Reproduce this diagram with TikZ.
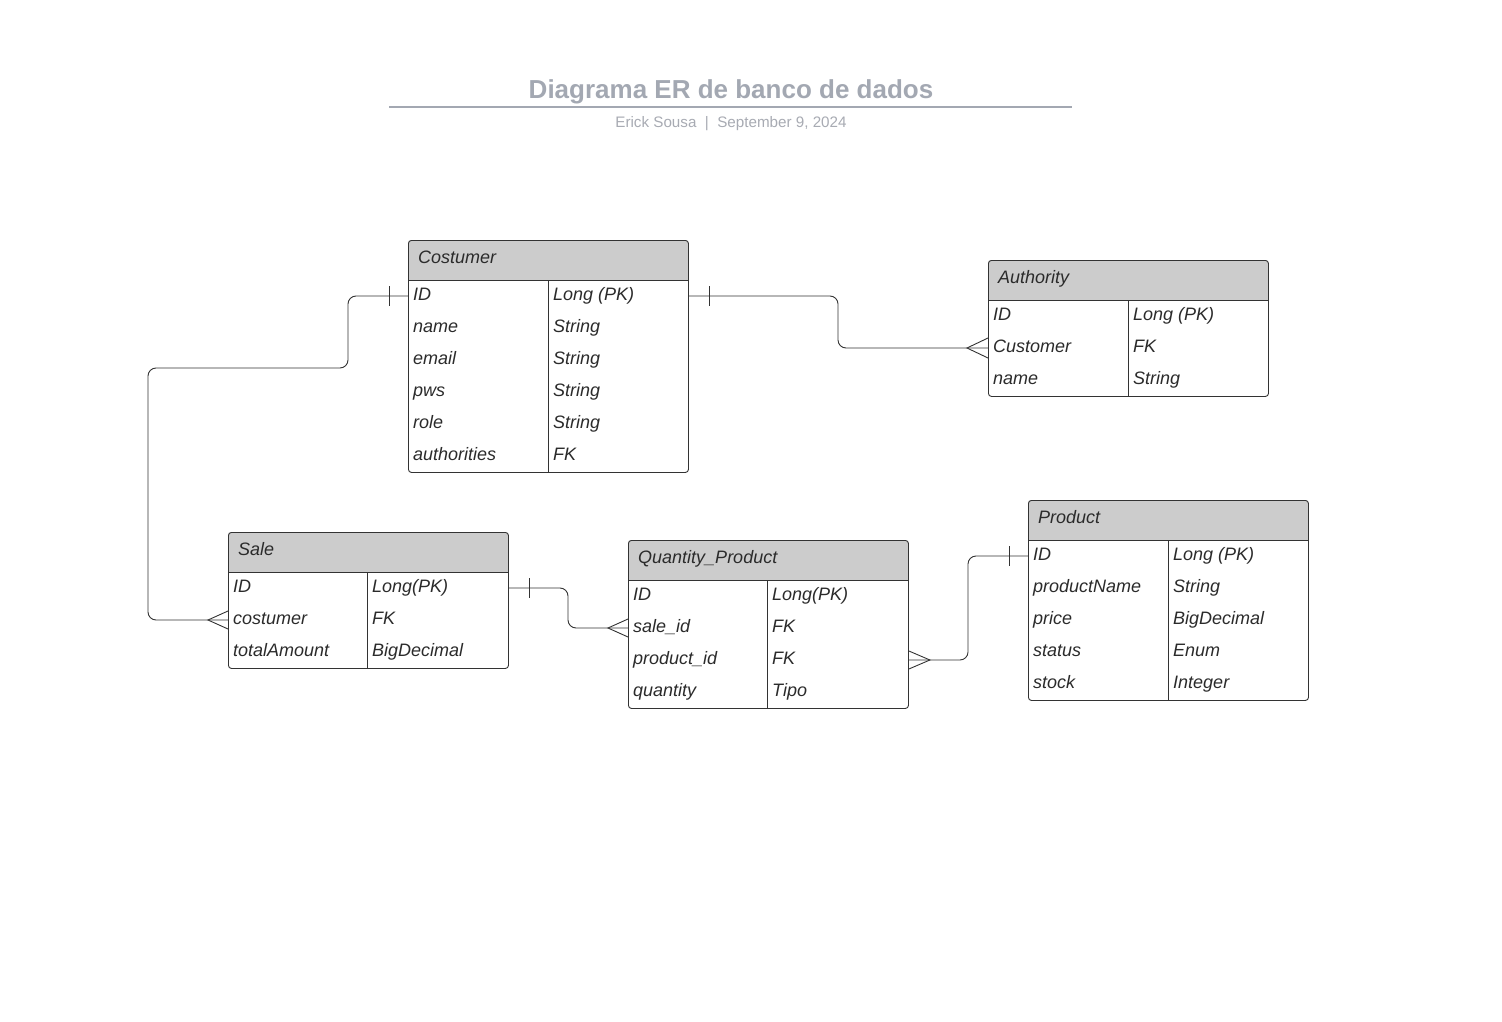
\documentclass[tikz,border=0pt]{standalone}
\usepackage{fontspec}
\setmainfont{Liberation Sans}
\definecolor{linec}{HTML}{333333}
\definecolor{hdrc}{HTML}{CCCCCC}
\definecolor{txtc}{HTML}{2B2B2B}
\definecolor{titlec}{HTML}{A3A8B2}
\definecolor{subc}{HTML}{A8ABB3}
\newcommand\erbox[6]{%
  \fill[hdrc, rounded corners=3pt] (#2,#3) rectangle ++(280,40);
  \fill[hdrc] (#2,#3+20) rectangle ++(280,20);
  \draw[linec, line width=0.9pt] (#2,#3+40) -- ++(280,0);
  \draw[linec, line width=0.9pt] (#5,#3+40) -- (#5,#3+#4);
  \node[tbl, minimum width=280pt, minimum height=#4pt] (#1) at (#2,#3) {};
  \node[hdrtxt] (#1-title) at (#2+10,#3+19) {#6};
}
\begin{document}
\begin{tikzpicture}[x=1pt,y=-1pt,
  tbl/.style={draw=linec, line width=0.9pt, rounded corners=3pt, anchor=north west, inner sep=0pt},
  fld/.style={anchor=west, inner sep=0pt, text height=13pt, text depth=4.5pt, text=txtc,
    font=\fontsize{18}{20}\selectfont\itshape},
  hdrtxt/.style={fld},
  conn/.style={draw=linec, line width=0.9pt, rounded corners=8pt},
  mark1/.style={draw=linec, line width=0.9pt}]
\useasboundingbox (0,0) rectangle (1502,1022);
\fill[white] (0,0) rectangle (1502,1022);

% title
\node[anchor=base, inner sep=0pt, text=titlec, font=\fontsize{26}{30}\selectfont\bfseries] (title) at (731,98.5) {Diagrama ER de banco de dados};
\draw[titlec, line width=1.5pt] (389,107) -- (1072,107);
\node[anchor=base, inner sep=0pt, text=subc, font=\fontsize{15.2}{18}\selectfont] (sub) at (731,128) {Erick Sousa\ \ |\ \ September 9, 2024};

% Costumer
\erbox{cust}{408}{240}{232}{548}{Costumer}
\node[fld] (cust-id) at (413,296) {ID};          \node[fld] (cust-id-t) at (553,296) {Long (PK)};
\node[fld] (cust-name) at (413,328) {name};      \node[fld] (cust-name-t) at (553,328) {String};
\node[fld] (cust-email) at (413,360) {email};    \node[fld] (cust-email-t) at (553,360) {String};
\node[fld] (cust-pws) at (413,392) {pws};        \node[fld] (cust-pws-t) at (553,392) {String};
\node[fld] (cust-role) at (413,424) {role};      \node[fld] (cust-role-t) at (553,424) {String};
\node[fld] (cust-auth) at (413,456) {authorities}; \node[fld] (cust-auth-t) at (553,456) {FK};

% Authority
\erbox{auth}{988}{260}{136}{1128}{Authority}
\node[fld] (auth-id) at (993,316) {ID};          \node[fld] (auth-id-t) at (1133,316) {Long (PK)};
\node[fld] (auth-cust) at (993,348) {Customer};  \node[fld] (auth-cust-t) at (1133,348) {FK};
\node[fld] (auth-name) at (993,380) {name};      \node[fld] (auth-name-t) at (1133,380) {String};

% Sale
\erbox{sale}{228}{532}{136}{367}{Sale}
\node[fld] (sale-id) at (233,588) {ID};          \node[fld] (sale-id-t) at (372,588) {Long(PK)};
\node[fld] (sale-cost) at (233,620) {costumer};  \node[fld] (sale-cost-t) at (372,620) {FK};
\node[fld] (sale-tot) at (233,652) {totalAmount}; \node[fld] (sale-tot-t) at (372,652) {BigDecimal};

% Quantity_Product
\erbox{qp}{628}{540}{168}{767}{Quantity\_Product}
\node[fld] (qp-id) at (633,596) {ID};            \node[fld] (qp-id-t) at (772,596) {Long(PK)};
\node[fld] (qp-sale) at (633,628) {sale\_id};    \node[fld] (qp-sale-t) at (772,628) {FK};
\node[fld] (qp-prod) at (633,660) {product\_id}; \node[fld] (qp-prod-t) at (772,660) {FK};
\node[fld] (qp-qty) at (633,692) {quantity};     \node[fld] (qp-qty-t) at (772,692) {Tipo};

% Product
\erbox{prod}{1028}{500}{200}{1168}{Product}
\node[fld] (prod-id) at (1033,556) {ID};             \node[fld] (prod-id-t) at (1173,556) {Long (PK)};
\node[fld] (prod-name) at (1033,588) {productName};  \node[fld] (prod-name-t) at (1173,588) {String};
\node[fld] (prod-price) at (1033,620) {price};       \node[fld] (prod-price-t) at (1173,620) {BigDecimal};
\node[fld] (prod-status) at (1033,652) {status};     \node[fld] (prod-status-t) at (1173,652) {Enum};
\node[fld] (prod-stock) at (1033,684) {stock};       \node[fld] (prod-stock-t) at (1173,684) {Integer};

% Costumer -> Sale
\draw[conn] (cust.west |- cust-id) -- (348,296) -- (348,368) -- (148,368) -- (148,620) -- (sale.west |- sale-cost);
\draw[mark1] (cust.west |- cust-id) ++(-19,-10) -- ++(0,20);
\draw[mark1] (sale.west |- sale-cost) ++(0,-9) -- ++(-20,9) -- ++(20,9);

% Costumer -> Authority
\draw[conn] (cust.east |- cust-id) -- (838,296) -- (838,348) -- (auth.west |- auth-cust);
\draw[mark1] (cust.east |- cust-id) ++(21,-10) -- ++(0,20);
\draw[mark1] (auth.west |- auth-cust) ++(0,-10) -- ++(-21,10) -- ++(21,10);

% Sale -> Quantity_Product
\draw[conn] (sale.east |- sale-id) -- (568,588) -- (568,628) -- (qp.west |- qp-sale);
\draw[mark1] (sale.east |- sale-id) ++(21,-10) -- ++(0,20);
\draw[mark1] (qp.west |- qp-sale) ++(0,-9) -- ++(-20,9) -- ++(20,9);

% Quantity_Product -> Product
\draw[conn] (qp.east |- qp-prod) -- (968,660) -- (968,556) -- (prod.west |- prod-id);
\draw[mark1] (prod.west |- prod-id) ++(-19,-10) -- ++(0,20);
\draw[mark1] (qp.east |- qp-prod) ++(0,-9) -- ++(21,9) -- ++(-21,9);
\end{tikzpicture}
\end{document}
